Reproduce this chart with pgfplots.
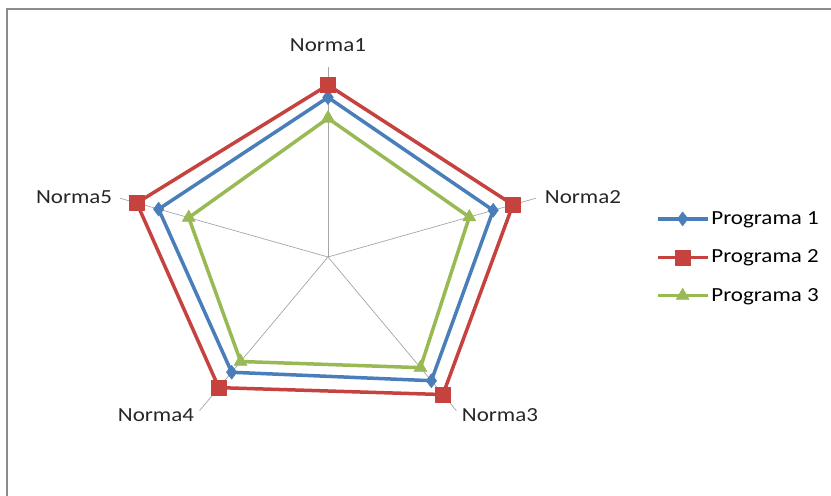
\documentclass[border=0pt]{standalone}
\usepackage{pgfplots}
\pgfplotsset{compat=1.18}
\usepackage{fontspec}
\setmainfont{Carlito}
\usepackage{graphicx}
\definecolor{p1}{HTML}{4A7EBB}
\definecolor{p2}{HTML}{C5423F}
\definecolor{p3}{HTML}{98B954}
\definecolor{spoke}{HTML}{A6A6A6}
\definecolor{frame}{HTML}{8C8C8C}
\newcommand\sx[1]{\scalebox{1.15}[1]{#1}}
\begin{document}
\begin{tikzpicture}
\begin{axis}[
  at={(0,0)}, anchor=south west,
  x=21.85bp, y=19bp,
  xmin=-15.01, xmax=23.02, ymin=-12.58, ymax=13.53,
  hide axis, clip=false,
  font=\fontsize{20bp}{24bp}\selectfont,
  legend cell align=left,
  legend style={at={(axis cs:15.0,2.5)}, anchor=north west, draw=none, fill=none,
    font=\fontsize{20bp}{24bp}\selectfont, inner sep=0pt, row sep=20bp,
    /tikz/every even column/.append style={column sep=2bp}},
  legend image code/.code={\draw[mark repeat=2,mark phase=2,#1] plot coordinates {(0bp,0bp) (25bp,0bp) (50bp,0bp)};},
]
% spokes
\addplot[spoke, line width=0.7bp, forget plot, data cs=polar] coordinates {(90,0) (90,10)};
\addplot[spoke, line width=0.7bp, forget plot, data cs=polar] coordinates {(18,0) (18,10)};
\addplot[spoke, line width=0.7bp, forget plot, data cs=polar] coordinates {(-54,0) (-54,10)};
\addplot[spoke, line width=0.7bp, forget plot, data cs=polar] coordinates {(-126,0) (-126,10)};
\addplot[spoke, line width=0.7bp, forget plot, data cs=polar] coordinates {(162,0) (162,10)};
% series
\addplot[p1, line width=3.5bp, line join=round, data cs=polar, mark=diamond*, mark size=7bp,
  mark options={solid, fill=p1, line width=0.5bp}]
  coordinates {(90,8.4) (18,7.95) (-54,8.05) (-126,7.5) (162,8.15) (90,8.4)};
\addlegendentry{\sx{Programa 1}}
\addplot[p2, line width=3.5bp, line join=round, data cs=polar, mark=square*, mark size=7.5bp,
  mark options={solid, fill=p2, line width=0.5bp}]
  coordinates {(90,9.05) (18,8.9) (-54,8.95) (-126,8.5) (162,9.2) (90,9.05)};
\addlegendentry{\sx{Programa 2}}
\addplot[p3, line width=3.5bp, line join=round, data cs=polar, mark=triangle*, mark size=7.5bp,
  mark options={solid, fill=p3, line width=0.5bp}]
  coordinates {(90,7.3) (18,6.8) (-54,7.2) (-126,6.8) (162,6.7) (90,7.3)};
\addlegendentry{\sx{Programa 3}}
% category labels
\node[text=black!85] at (axis cs:0,11.16) {\sx{Norma1}};
\node[text=black!85] at (axis cs:11.67,3.16) {\sx{Norma2}};
\node[text=black!85] at (axis cs:7.87,-8.3) {\sx{Norma3}};
\node[text=black!85] at (axis cs:-7.87,-8.3) {\sx{Norma4}};
\node[text=black!85] at (axis cs:-11.62,3.16) {\sx{Norma5}};
\end{axis}
\draw[frame, line width=2bp] (7bp,-20bp) -- (7bp,487bp) -- (850bp,487bp);
\pgfresetboundingbox
\useasboundingbox (0,0) rectangle (831bp,496bp);
\end{tikzpicture}
\end{document}
